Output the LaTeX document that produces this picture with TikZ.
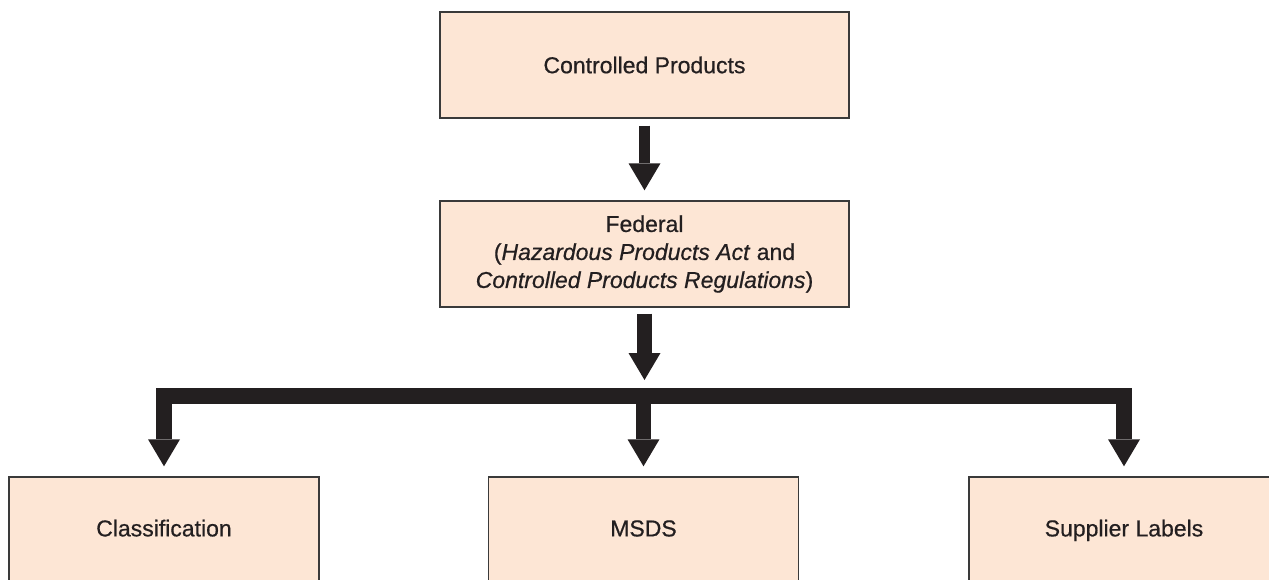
\documentclass[tikz,border=0pt]{standalone}
\usepackage{fontspec}
\setmainfont{Liberation Sans}[FakeBold=0.6]
\usetikzlibrary{arrows.meta}
\definecolor{peach}{HTML}{FDE6D5}
\definecolor{ink}{HTML}{231F20}
\definecolor{edge}{HTML}{3A3A3A}
\begin{document}
\begin{tikzpicture}[x=0.5pt,y=-0.5pt,font=\fontsize{11.5}{14}\selectfont,text=ink]
\tikzset{b/.style={draw=edge,line width=0.7pt,fill=peach,minimum width=204.5pt,minimum height=53pt,inner sep=0pt,align=center}, s/.style={b,minimum width=155pt,minimum height=52.5pt,text height=1.8ex,text depth=0.5ex}, a/.style={draw=ink,line width=5.5pt,-{Triangle[width=16pt,length=13.5pt,line width=0pt]}}, f/.style={a,line width=7.6pt}}
\clip (0,0) rectangle (1269,579);
\node[b] (ctrl) at (644.5,65) {Controlled Products};
\node[b] (fed) at (644.5,254) {Federal\\(\textit{Hazardous Products Act} and\\\textit{Controlled Products Regulations})};
\node[s] (cls) at (164,529.5) {Classification};
\node[s] (msds) at (643.5,529.5) {MSDS};
\node[s] (sup) at (1124,529.5) {Supplier Labels};
\coordinate (hub) at (643.5,396);
\draw[a,shorten <=3.5pt,shorten >=5pt] (ctrl)--(fed);
\draw[f,shorten <=3pt,shorten >=8pt] (fed.south)--(fed.south |- hub);
\draw[f,shorten >=5pt] (hub) -| (cls.north);\draw[f,shorten >=5pt] (hub) -| (sup.north);\draw[f,shorten >=5pt] (hub)--(msds.north);
\end{tikzpicture}
\end{document}
